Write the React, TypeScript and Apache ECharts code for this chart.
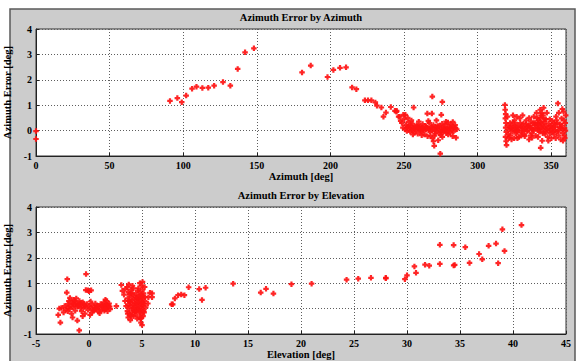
import React, { useEffect, useRef } from "react";
import * as echarts from "echarts";

const title1 = "Azimuth Error by Azimuth";
const title2 = "Azimuth Error by Elevation";
const xName1 = "Azimuth [deg]";
const xName2 = "Elevation [deg]";
const yName = "Azimuth Error [deg]";

// Top plot: [azimuth deg, azimuth error deg]
const azSparse: number[][] = [
  [0, -0.02], [0, -0.33],
  [91, 1.17], [96, 1.28], [99, 1.12], [102, 1.38], [106, 1.65], [109, 1.73], [113, 1.68], [117, 1.69],
  [121, 1.77], [127, 1.91], [132, 1.77], [137, 2.43], [142, 3.08], [148, 3.24],
  [180.7, 2.29], [186.6, 2.56], [198, 2.11], [202, 2.39], [206.5, 2.47], [210.6, 2.49],
  [214.7, 1.7], [217.6, 1.63], [223.4, 1.19], [225.5, 1.19], [227.8, 1.19], [230.5, 1.11],
  [231.6, 0.98], [234.6, 0.91], [236, 0.55], [237.7, 0.71], [241, 0.93], [243.8, 0.78], [244.8, 0.74],
  [246.3, 0.55], [247.7, 0.38], [250.9, 0.62], [256.5, 0.91], [265.8, 0.67], [268.9, 0.67],
  [269.2, 1.34], [276, 1.13], [275.3, 0.62], [270.5, -0.6], [274.6, -0.91], [283, -0.22],
  [245, 0.78], [247, 0.55], [249.5, 0.62], [252.5, 0.5]
];
const azCluster1: number[][] = [
  [248.5, 0.3], [249.2, 0.12], [250.1, 0.45], [250.6, 0.05], [251.3, 0.22], [251.9, -0.02], [252.4, 0.15],
  [253.0, 0.33], [253.6, 0.08], [254.2, -0.05], [254.8, 0.18], [255.3, 0.02], [255.9, 0.27], [256.4, 0.1],
  [257.0, -0.08], [257.6, 0.14], [258.1, 0.04], [258.7, 0.21], [259.3, -0.12], [259.8, 0.09], [260.4, 0.17],
  [261.0, 0.01], [261.5, -0.04], [262.1, 0.12], [262.6, 0.26], [263.2, 0.06], [263.8, -0.15], [264.3, 0.19],
  [264.9, 0.03], [265.5, 0.11], [266.0, -0.22], [266.6, 0.08], [267.1, 0.3], [267.7, -0.05], [268.2, 0.14],
  [268.8, 0.0], [269.3, -0.3], [269.9, 0.22], [270.4, 0.06], [271.0, -0.12], [271.5, 0.16], [272.1, -0.02],
  [272.6, 0.1], [273.2, -0.38], [273.7, 0.04], [274.3, 0.2], [274.8, -0.18], [275.4, 0.08], [275.9, 0.27],
  [276.5, -0.06], [277.0, 0.13], [277.6, 0.02], [278.1, 0.24], [278.7, -0.1], [279.2, 0.09], [279.8, 0.32],
  [280.3, 0.01], [280.9, 0.17], [281.4, -0.08], [282.0, 0.25], [282.5, 0.06], [283.1, 0.34], [283.6, -0.04],
  [284.2, 0.12], [284.7, 0.22], [285.3, -0.28], [285.8, 0.05], [272.0, 0.4], [266.5, 0.38], [260.0, 0.35],
  [256.0, -0.15], [262.0, -0.18], [268.0, -0.22], [276.0, -0.25], [270.0, -0.42], [278.5, 0.35], [255.0, 0.4],
  [252, 0.1], [254, 0.2], [257, 0.05], [259, 0.15], [261, 0.1], [263, 0.0], [265, 0.15], [267, 0.05],
  [269, 0.12], [271, 0.0], [273, 0.18], [275, -0.05], [277, 0.08], [279, 0.0], [281, 0.1], [283, 0.15],
  [285, 0.1], [270.7, -0.2], [274, -0.1], [280, -0.15]
];
const azCluster2: number[][] = [
  [318.5, 1.01], [318.7, 0.82], [319.0, 0.65], [318.8, 0.48], [319.2, 0.3], [319.0, 0.12], [319.4, -0.05],
  [318.9, -0.25], [319.3, -0.42], [319.6, -0.57], [320.2, 0.55], [320.5, 0.2], [320.8, -0.15],
  [321.5, 0.05], [322.2, -0.2], [322.8, 0.18], [323.5, -0.05], [324.1, 0.32], [324.8, -0.3], [325.4, 0.1],
  [326.0, -0.12], [326.7, 0.24], [327.3, 0.02], [328.0, -0.25], [328.6, 0.48], [329.2, 0.15], [329.9, -0.08],
  [330.5, 0.6], [331.1, 0.28], [331.8, -0.15], [332.4, 0.08], [333.0, 0.4], [333.7, -0.02], [334.3, 0.2],
  [334.9, -0.35], [335.6, 0.12], [336.2, 0.35], [336.8, -0.1], [337.5, 0.05], [338.1, 0.55], [338.7, 0.22],
  [339.4, -0.2], [340.0, 0.7], [340.6, 0.1], [341.2, 0.42], [341.9, -0.05], [342.5, 0.82], [343.1, 0.3],
  [343.8, -0.4], [344.4, 0.6], [345.0, 0.15], [345.6, -0.12], [346.3, 0.45], [346.9, 0.05], [347.5, -0.25],
  [348.2, 0.28], [348.8, 0.0], [349.4, 0.18], [350.1, -0.3], [350.7, 0.38], [351.3, 0.1], [352.0, -0.15],
  [352.6, 0.25], [353.2, 0.55], [353.9, -0.05], [354.5, 1.07], [355.1, 0.7], [355.7, 0.15], [356.4, -0.35],
  [357.0, 0.48], [357.6, 0.05], [358.3, 0.75], [358.9, -0.2], [359.5, 0.3], [359.8, 0.6],
  [322.0, 0.3], [323.0, -0.35], [325.0, 0.4], [327.0, -0.3], [330.0, 0.0], [332.0, -0.22], [335.0, 0.5],
  [337.0, -0.28], [339.0, 0.3], [341.0, -0.25], [342.0, 0.05], [343.0, 0.6], [344.0, 0.25], [345.5, 0.35],
  [347.0, 0.7], [348.0, -0.4], [349.0, 0.45], [351.0, -0.05], [352.5, 0.0], [354.0, 0.3], [355.0, -0.2],
  [356.0, 0.25], [357.5, 0.85], [359.0, 0.1], [342.8, -0.68], [340.3, 0.5], [344.8, 0.9], [326.5, 0.55],
  [333.5, 0.15], [338.0, 0.0], [346.0, -0.05], [350.0, 0.2], [358.0, -0.4], [321.0, -0.3], [324.0, 0.6],
  [322.5, 0.1], [323.8, 0.05], [325.2, 0.2], [326.3, 0.0], [327.8, 0.12], [329.0, 0.3], [330.2, 0.18],
  [331.5, 0.05], [332.8, 0.25], [334.0, 0.0], [335.2, 0.2], [336.5, 0.1], [337.8, 0.3], [339.2, 0.08],
  [340.8, 0.22], [341.5, 0.0], [342.2, 0.35], [343.4, 0.12], [344.2, -0.1], [345.2, 0.45], [346.5, 0.2],
  [347.8, 0.1], [349.2, -0.1], [350.4, 0.05], [351.6, 0.3], [352.8, 0.15], [353.6, 0.4], [354.8, 0.0],
  [356.2, 0.1], [357.3, 0.2], [358.6, 0.4], [359.6, 0.0], [340.5, 0.3], [342.7, 0.5], [343.6, 0.7],
  [344.6, 0.05], [341.6, 0.18], [329.6, -0.2], [326.8, -0.05], [336.0, -0.2], [353.0, -0.3], [357.8, -0.1],
  [359.2, -0.3]
];

// Bottom plot: [elevation deg, azimuth error deg]
const elCluster1: number[][] = [
  [-2.9, -0.25], [-2.7, -0.55], [-2.6, 0.02], [-2.4, -0.15], [-2.3, 0.1], [-2.2, -0.05], [-2.1, 0.63],
  [-2.05, 1.16], [-2.0, 0.18], [-1.9, 0.3], [-1.85, -0.02], [-1.8, 0.42], [-1.7, 0.12], [-1.65, -0.2],
  [-1.6, 0.25], [-1.5, 0.05], [-1.45, 0.35], [-1.4, 0.15], [-1.3, -0.08], [-1.25, 0.22], [-1.2, 0.4],
  [-1.1, 0.08], [-1.1, -0.47], [-1.0, 0.18], [-0.92, -0.86], [-0.9, 0.3], [-0.8, 0.02], [-0.75, 0.15],
  [-0.7, -0.1], [-0.6, 0.25], [-0.5, 0.05], [-0.45, 0.12], [-0.4, -0.2], [-0.3, 0.08], [-0.28, 1.36],
  [-0.3, 0.73], [-0.1, 0.72], [0.0, 0.68], [-0.2, 0.18], [-0.1, -0.05], [0.0, 0.1], [0.1, -0.25],
  [0.15, 0.28], [0.2, 0.02], [0.3, 0.15], [0.4, -0.08], [0.5, 0.05], [0.6, 0.2], [0.7, -0.02], [0.8, 0.1],
  [0.9, -0.12], [1.0, 0.05], [1.1, 0.18], [1.2, -0.05], [1.3, 0.08], [1.4, 0.25], [1.45, -0.08], [1.5, 0.12],
  [1.55, 0.35], [1.6, 0.02], [1.7, 0.15], [1.75, -0.1], [1.8, 0.05], [1.9, 0.2], [2.0, -0.02], [2.58, 0.1],
  [0.2, 0.72], [-2.8, 0.0], [-1.55, -0.35], [-0.6, -0.3], [0.3, -0.15], [1.0, -0.18], [1.65, 0.3],
  [-1.95, 0.05], [-1.35, 0.28], [-0.85, 0.2], [0.55, -0.05], [1.25, 0.15],
  [1.35, 0.0], [1.6, 0.1], [1.85, 0.12], [1.5, -0.02], [1.95, 0.08], [0.75, 0.08], [-1.05, 0.1],
  [-1.5, 0.2], [-2.0, -0.1], [-0.5, 0.2]
];
const elCluster2: number[][] = [
  [3.6, 0.85], [3.7, 0.65], [3.65, 0.4], [3.7, 0.15], [3.62, -0.1], [3.7, -0.35], [3.75, 0.95], [3.8, 0.55],
  [3.85, 0.28], [3.8, 0.02], [3.85, -0.22], [3.9, -0.45], [3.95, 0.75], [4.0, 0.45], [4.0, 0.1], [4.05, -0.15],
  [4.1, 0.62], [4.1, 0.32], [4.15, -0.05], [4.2, -0.3], [4.25, 0.5], [4.3, 0.2], [4.3, -0.12],
  [4.35, 0.35], [4.4, 0.05], [4.4, -0.25], [4.45, 0.55], [4.5, 0.18], [4.5, -0.1], [4.55, -0.4], [4.6, 0.38],
  [4.6, 0.0], [4.65, 0.8], [4.7, 0.5], [4.7, 0.22], [4.72, -0.05], [4.75, -0.35], [4.8, 1.0], [4.8, 0.65],
  [4.85, 0.35], [4.85, 0.08], [4.9, -0.2], [4.9, -0.55], [4.95, 0.9], [4.95, 0.55], [5.0, 0.25], [5.0, -0.02],
  [5.0, -0.65], [5.05, 1.05], [5.05, 0.75], [5.1, 0.4], [5.1, 0.12], [5.1, -0.3], [5.15, 0.6], [5.2, 0.2],
  [5.2, -0.15], [5.25, 0.85], [5.3, 0.45], [4.88, -0.4], [4.6, 0.7], [4.2, 0.8], [3.9, 0.25], [4.45, -0.05],
  [5.35, 0.05], [3.05, 0.93], [3.15, 0.7], [3.3, 0.55], [3.4, 0.3], [3.5, 0.1], [3.45, 0.78], [5.55, 0.2],
  [5.6, 0.45], [5.75, 0.62], [5.95, 0.6], [5.95, 0.45],
  [3.75, 0.3], [3.9, 0.6], [4.0, -0.3], [4.15, 0.15], [4.25, 0.0], [4.35, -0.1], [4.5, 0.4], [4.65, 0.1],
  [4.75, 0.4], [4.8, -0.15], [4.95, 0.2], [5.05, 0.5], [5.15, -0.1], [5.25, 0.3], [4.1, 0.9], [3.65, -0.2],
  [4.55, 0.25], [4.95, -0.35]
];
const elSparse: number[][] = [
  [7.8, 0.17], [7.9, 0.17], [8.1, 0.4], [8.4, 0.53], [8.7, 0.56], [9.0, 0.53], [9.4, 0.84], [10.4, 0.77],
  [10.66, 0.34], [11.0, 0.82], [13.6, 0.98], [16.2, 0.63], [16.7, 0.78], [17.4, 0.59], [19.1, 0.96],
  [21.0, 0.98], [24.3, 1.14], [25.4, 1.18], [26.6, 1.21], [28.0, 1.19], [28.0, 1.21], [29.8, 1.16],
  [30.0, 1.31], [30.7, 1.66], [30.85, 1.41], [31.7, 1.73], [32.1, 1.69], [33.1, 2.51], [33.1, 1.76],
  [34.4, 2.5], [34.4, 1.7], [34.5, 1.72], [35.5, 2.42], [35.9, 1.8], [36.8, 2.15], [37.1, 1.94],
  [37.7, 2.47], [38.4, 2.56], [38.6, 1.79], [39.0, 3.12], [39.2, 2.27], [40.8, 3.29]
];

const xTicks1 = { min: 0, max: 360, interval: 50 };
const xTicks2 = { min: -5, max: 45, interval: 5 };
const yTicks = { min: -1, max: 4, interval: 1 };

const FONT = "'Liberation Serif', 'Times New Roman', serif";
const MARK = "path://M3,0H7V3H10V7H7V10H3V7H0V3H3Z";

export default function App() {
  const ref = useRef<HTMLDivElement>(null);
  useEffect(() => {
    if (!ref.current) return;
    const chart = echarts.init(ref.current, null, { renderer: "svg" });
    const labelStyle = { fontFamily: FONT, fontWeight: "bold" as const, fontSize: 10, color: "#000" };
    const split = { show: true, lineStyle: { color: "#5e5e5e", type: [1, 2] as any, width: 1 } };
    const mkX = (gi: number, t: any, name: string) => ({
      type: "value", gridIndex: gi, min: t.min, max: t.max, interval: t.interval,
      name, nameLocation: "middle", nameGap: 14,
      nameTextStyle: { ...labelStyle, fontSize: 10.5 },
      axisLine: { show: true, onZero: false, lineStyle: { color: "#222" } },
      axisTick: { show: true, inside: true, length: 3, lineStyle: { color: "#222" } },
      axisLabel: { ...labelStyle, margin: 4, showMaxLabel: t.max % t.interval === 0 },
      splitLine: split,
    });
    const mkY = (gi: number) => ({
      type: "value", gridIndex: gi, min: yTicks.min, max: yTicks.max, interval: yTicks.interval,
      name: yName, nameLocation: "middle", nameGap: 13, nameRotate: 90,
      nameTextStyle: { ...labelStyle, fontSize: 10.5 },
      axisLine: { show: true, onZero: false, lineStyle: { color: "#222" } },
      axisTick: { show: true, inside: true, length: 3, lineStyle: { color: "#222" } },
      axisLabel: { ...labelStyle, margin: 4 },
      splitLine: split,
    });
    const sym = { symbol: MARK, symbolSize: 5.5, itemStyle: { color: "#ff1414", opacity: 0.92 } };
    chart.setOption({
      animation: false,
      backgroundColor: "#ffffff",
      graphic: [
        { type: "rect", z: -100, shape: { x: 10, y: 9, width: 565, height: 370 },
          style: { fill: "#cccccc", stroke: "#5a5a5a", lineWidth: 1.5 } },
        { type: "text", x: 301, y: 17, style: { text: title1, font: `bold 10.5px ${FONT}`, fill: "#000", textAlign: "center", textVerticalAlign: "middle" } },
        { type: "text", x: 301, y: 195, style: { text: title2, font: `bold 10.5px ${FONT}`, fill: "#000", textAlign: "center", textVerticalAlign: "middle" } },
      ],
      grid: [
        { left: 36, top: 29, width: 530, height: 127, show: true, backgroundColor: "#ffffff", borderColor: "#333", borderWidth: 1, outerBoundsMode: "none", containLabel: false },
        { left: 36, top: 207, width: 530, height: 127, show: true, backgroundColor: "#ffffff", borderColor: "#333", borderWidth: 1, outerBoundsMode: "none", containLabel: false },
      ],
      xAxis: [mkX(0, xTicks1, xName1), mkX(1, xTicks2, xName2)],
      yAxis: [mkY(0), mkY(1)],
      series: [
        { type: "scatter", xAxisIndex: 0, yAxisIndex: 0, data: [...azSparse, ...azCluster1, ...azCluster2], ...sym },
        { type: "scatter", xAxisIndex: 1, yAxisIndex: 1, data: [...elCluster1, ...elCluster2, ...elSparse], ...sym },
      ],
    });
    return () => chart.dispose();
  }, []);
  return <div ref={ref} style={{ position: "fixed", left: 0, top: 0, width: 581, height: 361 }} />;
}
